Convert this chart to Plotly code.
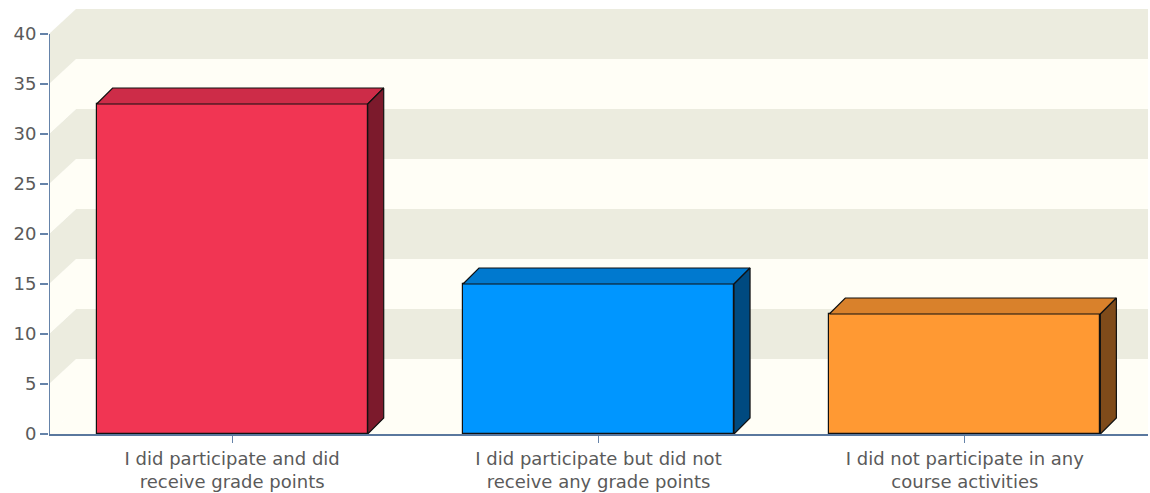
import plotly.graph_objects as go

# ---- data ----
categories = [
    "I did participate and did<br>receive grade points",
    "I did participate but did not<br>receive any grade points",
    "I did not participate in any<br>course activities",
]
values = [33, 15, 12]
y_ticks = [0, 5, 10, 15, 20, 25, 30, 35, 40]

# ---- styles ----
front_colors = ["#F13553", "#0096FF", "#FF9933"]
top_colors = ["#CD2C48", "#0079CF", "#D9812B"]
side_colors = ["#7C1A2C", "#004A80", "#7F4B1A"]
beige = "#ECECDF"
cream = "#FFFEF6"
axis_col = "#6583A9"

bar_w = 0.74
bdx, bdy = 16 / 366.3, 1.6        # bar depth offsets
wdx, wdy = 27 / 366.3, 2.5        # wall depth offsets
xmin, xmax = -0.5, 2.5
ymax = 40

fig = go.Figure()

# front faces
xs = list(range(len(categories)))
fig.add_trace(go.Bar(
    x=xs, y=values, width=bar_w,
    marker=dict(color=front_colors, line=dict(color="#111111", width=1.2)),
    hoverinfo="skip", showlegend=False,
))

# top and side faces
for i, v in enumerate(values):
    l, r = i - bar_w / 2, i + bar_w / 2
    fig.add_trace(go.Scatter(
        x=[l, l + bdx, r + bdx, r, l], y=[v, v + bdy, v + bdy, v, v],
        fill="toself", fillcolor=top_colors[i], mode="lines",
        line=dict(color="#111111", width=1.2), hoverinfo="skip", showlegend=False,
    ))
    fig.add_trace(go.Scatter(
        x=[r, r + bdx, r + bdx, r, r], y=[0, bdy, v + bdy, v, 0],
        fill="toself", fillcolor=side_colors[i], mode="lines",
        line=dict(color="#111111", width=1.2), hoverinfo="skip", showlegend=False,
    ))

shapes = []
# floor
shapes.append(dict(type="path", layer="below", xref="x", yref="y",
                   path=f"M {xmin},0 L {xmin + wdx},{wdy} L {xmax + 0.1},{wdy} L {xmax + 0.1},0 Z",
                   fillcolor=cream, line=dict(width=0)))
for k in range(0, ymax, 5):
    col = beige if (k // 5) % 2 == 1 else cream
    # back wall band
    shapes.append(dict(type="rect", layer="below", xref="x", yref="y",
                       x0=xmin + wdx, x1=xmax + 0.1, y0=k + wdy, y1=k + 5 + wdy,
                       fillcolor=col, line=dict(width=0)))
    # left wall band
    shapes.append(dict(type="path", layer="below", xref="x", yref="y",
                       path=(f"M {xmin},{k} L {xmin + wdx},{k + wdy} "
                             f"L {xmin + wdx},{k + 5 + wdy} L {xmin},{k + 5} Z"),
                       fillcolor=col, line=dict(width=0)))
# y axis line
shapes.append(dict(type="line", layer="above", xref="x", yref="y",
                   x0=xmin, x1=xmin, y0=0, y1=ymax,
                   line=dict(color=axis_col, width=2)))

fig.update_layout(
    width=1150, height=493,
    margin=dict(l=49, r=2, t=9, b=59),
    paper_bgcolor="white", plot_bgcolor="white",
    shapes=shapes,
    font=dict(family="DejaVu Sans", size=18, color="#555555"),
    xaxis=dict(
        range=[xmin, xmax], tickvals=xs, ticktext=categories,
        showgrid=False, zeroline=False,
        showline=True, linecolor="#5A789E", linewidth=2,
        ticks="outside", ticklen=7, tickcolor=axis_col, tickwidth=1,
        tickfont=dict(size=18, color="#5A5A5A"),
    ),
    yaxis=dict(
        range=[0, ymax + wdy], tickvals=y_ticks,
        showgrid=False, zeroline=False, showline=False,
        ticks="outside", ticklen=8, tickcolor=axis_col, tickwidth=2,
        tickfont=dict(size=18, color="#5A5A5A"),
    ),
    bargap=0,
)

fig.write_html(
    "out.html",
    config={"displayModeBar": False},
    post_script="document.body.style.margin='0';document.body.style.overflow='hidden';",
)
